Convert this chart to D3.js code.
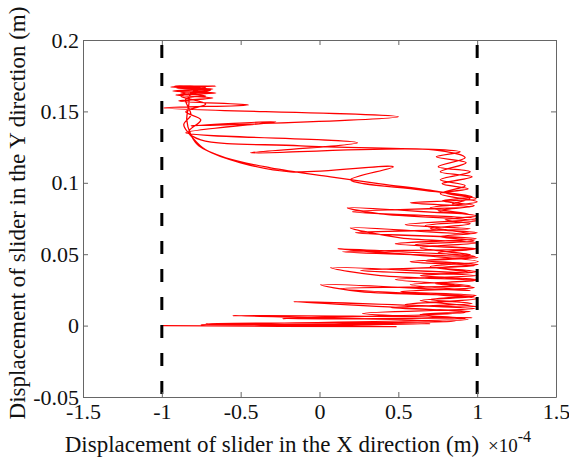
<!DOCTYPE html>
<html>
<head>
<meta charset="utf-8">
<script src="https://cdn.jsdelivr.net/npm/d3@7"></script>
<style>
  html, body { margin: 0; padding: 0; background: #fff; }
  svg { display: block; font-family: "Liberation Serif", "Times New Roman", serif; }
</style>
</head>
<body>
<svg id="chart" width="569" height="462"></svg>
<script>
// Slider trajectory: X displacement (×1e-4 m) and Y displacement (m), in time order
const sliderX = [
  -1.000, 0.487, -0.722, 0.861, -0.551, 0.968, -0.234, 0.924, -0.165, 0.994,
  0.639, 0.981, 0.259, 0.006, 0.956, 0.576, 0.994, 0.386, 0.070, 0.968,
  0.703, 1.006, 0.114, 0.956, 0.639, 1.000, 0.513, 0.196, 0.956, 0.671,
  0.994, 0.386, 0.177, 0.943, 0.703, 1.000,
  0.766, 0.924, 0.766, 0.956, 0.753, 0.924, 0.722,
  -0.437, 0.241, -0.848, -0.278, -0.816, 0.500, -0.987, -0.449, -0.892,
  -0.677, -0.911, -0.658, -0.930, -0.677, -0.943, -0.658, -0.905, -0.690, -0.880, -0.722, -0.848,
  -0.816, -0.861, -0.804, -0.722, -0.500, -0.184, 0.468, 0.196, 0.639, 0.968,
  0.778, 0.981, 0.753, 0.994, 0.797, 0.956, 0.703, 1.000, 0.766, 0.981,
  0.608, 0.994, 0.753, 0.987, 0.671, 1.006, 0.766, 0.994, 0.639, 1.000,
  0.734, 0.981, 0.513, 0.994, 0.703, 0.968, 0.449, 0.956, 0.639, 0.924,
  -0.753, 0.703, -0.184,
  0.943, 0.272, 0.987, 0.544, 1.000, 0.133, 0.956, 0.481, 0.994, 0.259,
  0.981, 0.576, 1.006, 0.146, 0.968, 0.481, 0.994, 0.228, 0.956, 0.544,
  1.000, 0.209, 0.968, 0.576, 0.994, 0.797, 0.943, 0.778, 0.968, 0.766,
  0.930, 0.741, 0.892, -0.120, -0.753, -0.829, -0.753, -0.848, -0.722, -0.880,
  -0.690, -0.918, -0.722, -0.816,
  -0.829, -0.842, -0.816, -0.766, -0.595, -0.310, 0.070, 0.386, 0.766, 0.956, 0.842
];
const sliderY = [
  0.0000, -0.0007, 0.0014, 0.0028, 0.0070, 0.0056, 0.0049, 0.0091, 0.0168, 0.0133,
  0.0175, 0.0203, 0.0238, 0.0287, 0.0245, 0.0287, 0.0315, 0.0350, 0.0406, 0.0371,
  0.0413, 0.0448, 0.0538, 0.0497, 0.0545, 0.0580, 0.0615, 0.0685, 0.0643, 0.0699,
  0.0734, 0.0783, 0.0825, 0.0783, 0.0825, 0.0867,
  0.0923, 0.0979, 0.1021, 0.1077, 0.1112, 0.1175, 0.1231,
  0.1210, 0.1280, 0.1350, 0.1427, 0.1399, 0.1462, 0.1524, 0.1545, 0.1573,
  0.1594, 0.1615, 0.1629, 0.1643, 0.1657, 0.1671, 0.1678, 0.1664, 0.1650, 0.1629, 0.1608, 0.1587,
  0.1476, 0.1406, 0.1315, 0.1231, 0.1140, 0.1077, 0.1112, 0.1021, 0.0951, 0.0902,
  0.0874, 0.0839, 0.0804, 0.0769, 0.0741, 0.0713, 0.0678, 0.0650, 0.0622, 0.0594,
  0.0566, 0.0538, 0.0510, 0.0483, 0.0455, 0.0427, 0.0406, 0.0378, 0.0350, 0.0322,
  0.0294, 0.0266, 0.0238, 0.0210, 0.0182, 0.0154, 0.0126, 0.0098, 0.0077, 0.0049,
  0.0007, 0.0014, 0.0000,
  0.0042, 0.0084, 0.0119, 0.0147, 0.0189, 0.0259, 0.0280, 0.0322, 0.0350, 0.0385,
  0.0420, 0.0448, 0.0476, 0.0517, 0.0538, 0.0573, 0.0608, 0.0650, 0.0678, 0.0706,
  0.0748, 0.0797, 0.0832, 0.0860, 0.0888, 0.0930, 0.0958, 0.0993, 0.1042, 0.1077,
  0.1140, 0.1182, 0.1217, 0.1259, 0.1301, 0.1357, 0.1441, 0.1497, 0.1552, 0.1608,
  0.1650, 0.1678, 0.1664, 0.1629,
  0.1545, 0.1441, 0.1336, 0.1259, 0.1175, 0.1105, 0.1042, 0.0993, 0.0937, 0.0895, 0.0853
];

// Limits of the slider travel in X (×1e-4 m)
const limitX = [-1, 1];

// Axis ticks
const xTicks = [-1.5, -1, -0.5, 0, 0.5, 1, 1.5];
const yTicks = [-0.05, 0, 0.05, 0.1, 0.15, 0.2];

const xLabel = "Displacement of slider in the X direction (m)";
const yLabel = "Displacement of slider in the Y direction (m)";

const svg = d3.select("#chart");
const plotL = 83, plotR = 556, plotT = 40, plotB = 397;

const x = d3.scaleLinear().domain([-1.5, 1.5]).range([plotL, plotR]);
const y = d3.scaleLinear().domain([-0.05, 0.2]).range([plotB, plotT]);

const axisColor = "#666";
const tickLen = 5;
const fmt = d => String(d);

// Trajectory
const pts = sliderX.map((v, i) => [v, sliderY[i]]);
const line = d3.line()
  .x(d => x(d[0])).y(d => y(d[1]))
  .curve(d3.curveCatmullRom.alpha(0.5));
svg.append("path")
  .datum(pts)
  .attr("d", line)
  .attr("fill", "none")
  .attr("stroke", "#ff0000")
  .attr("stroke-width", 1.3)
  .attr("stroke-linejoin", "round");

// Travel limits, dashed
svg.selectAll("line.limit")
  .data(limitX)
  .join("line")
  .attr("class", "limit")
  .attr("x1", d => x(d)).attr("x2", d => x(d))
  .attr("y1", y(0.2)).attr("y2", y(-0.05))
  .attr("stroke", "#000")
  .attr("stroke-width", 3)
  .attr("stroke-dasharray", "13,15")
  .attr("stroke-dashoffset", 23);

// Axes (box with inward ticks on all sides)
const xAxisB = d3.axisBottom(x).tickValues(xTicks).tickSizeInner(-tickLen).tickSizeOuter(0).tickFormat(fmt);
const xAxisT = d3.axisTop(x).tickValues(xTicks).tickSizeInner(-tickLen).tickSizeOuter(0).tickFormat("");
const yAxisL = d3.axisLeft(y).tickValues(yTicks).tickSizeInner(-tickLen).tickSizeOuter(0).tickFormat(fmt);
const yAxisR = d3.axisRight(y).tickValues(yTicks).tickSizeInner(-tickLen).tickSizeOuter(0).tickFormat("");

function style(g) {
  g.select(".domain").attr("stroke", axisColor).attr("stroke-width", 1);
  g.selectAll(".tick line").attr("stroke", axisColor).attr("stroke-width", 1);
  g.selectAll(".tick text").attr("fill", "#111").attr("font-size", 22)
    .attr("font-family", "Liberation Serif, Times New Roman, serif");
}

svg.append("g").attr("transform", `translate(0,${plotB})`).call(xAxisB).call(style)
  .selectAll(".tick text").attr("dy", "0.9em").attr("y", 2);
svg.append("g").attr("transform", `translate(0,${plotT})`).call(xAxisT).call(style);
svg.append("g").attr("transform", `translate(${plotL},0)`).call(yAxisL).call(style)
  .selectAll(".tick text").attr("x", -4);
svg.append("g").attr("transform", `translate(${plotR},0)`).call(yAxisR).call(style);

// Axis titles
svg.append("text")
  .attr("x", 272).attr("y", 452)
  .attr("text-anchor", "middle")
  .attr("font-size", 23).attr("fill", "#111")
  .text(xLabel);

const mult = svg.append("text")
  .attr("x", 488).attr("y", 452)
  .attr("font-size", 19).attr("fill", "#111");
mult.append("tspan").text("×10");
mult.append("tspan").attr("dy", -10).attr("font-size", 16).text("-4");

svg.append("text")
  .attr("transform", `translate(25,213) rotate(-90)`)
  .attr("text-anchor", "middle")
  .attr("font-size", 23).attr("fill", "#111")
  .text(yLabel);
</script>
</body>
</html>
